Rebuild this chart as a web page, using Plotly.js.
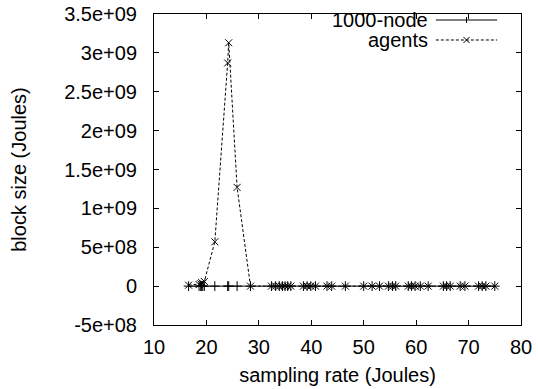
<!DOCTYPE html>
<html>
<head>
<meta charset="utf-8">
<script src="https://cdn.plot.ly/plotly-3.0.1.min.js"></script>
<style>html,body{margin:0;padding:0;background:#fff;}#chart{width:538px;height:389px;}</style>
</head>
<body>
<div id="chart"></div>
<script>
// x positions (sampling rate, Joules)
const samplingRate = [16.6, 18.6, 18.9, 19.1, 19.3, 19.6, 21.6, 24.05, 24.25, 25.85, 28.4,
  32.4, 33.2, 33.9, 34.5, 35.0, 35.5, 36.1, 38.5, 39.2, 39.9, 40.8, 43.0, 43.9, 46.5,
  50.0, 51.6, 53.0, 54.7, 55.5, 56.1, 58.5, 59.1, 59.8, 60.8, 62.3, 65.2, 65.8, 66.5,
  68.4, 69.3, 71.9, 72.6, 73.3, 75.0];
// series values (block size, Joules)
const node1000 = samplingRate.map(() => 0);
const agents = [1.2e7, 2.0e7, 3.0e7, 4.5e7, 3.5e7, 6.0e7, 5.7e8, 2.87e9, 3.13e9, 1.27e9, 0,
  0, 0, 0, 0, 0, 0, 0, 0, 0, 0, 0, 0, 0, 0,
  0, 0, 0, 0, 0, 0, 0, 0, 0, 0, 0, 0, 0, 0,
  0, 0, 0, 0, 0, 0];
const seriesNames = ['1000-node', 'agents'];
const xTicks = [10, 20, 30, 40, 50, 60, 70, 80];
const yTickVals = [-5e8, 0, 5e8, 1e9, 1.5e9, 2e9, 2.5e9, 3e9, 3.5e9];
const yTickText = ['-5e+08', '0', '5e+08', '1e+09', '1.5e+09', '2e+09', '2.5e+09', '3e+09', '3.5e+09'];

const FONT = 'Liberation Sans, Arial, sans-serif';
const FS = 20;

const traces = [
  {x: samplingRate, y: node1000, name: seriesNames[0], type: 'scatter', mode: 'lines+markers',
   line: {color: '#000', width: 1},
   marker: {symbol: 'cross-thin-open', size: 7, color: '#000', line: {color: '#000', width: 1}},
   showlegend: false, cliponaxis: false},
  {x: samplingRate, y: agents, name: seriesNames[1], type: 'scatter', mode: 'lines+markers',
   line: {color: '#000', width: 1, dash: '3px,2px'},
   marker: {symbol: 'x-thin-open', size: 7, color: '#000', line: {color: '#000', width: 1}},
   showlegend: false, cliponaxis: false}
];

// legend (gnuplot style: text on left, sample on right)
const legY = [0.9807, 0.9164];
const shapes = [];
const annotations = [];
const lx0 = 0.768, lx1 = 0.935, lxm = (lx0 + lx1) / 2;
const dx = 3 / 368, dy = 3 / 311;
seriesNames.forEach((n, i) => {
  annotations.push({xref: 'paper', yref: 'paper', x: 0.748, y: legY[i], text: n, showarrow: false,
    xanchor: 'right', yanchor: 'middle', borderpad: 0, font: {family: FONT, size: FS, color: '#000'}});
  shapes.push({type: 'line', xref: 'paper', yref: 'paper', x0: lx0, x1: lx1, y0: legY[i], y1: legY[i],
    line: {color: '#000', width: 1, dash: i === 0 ? 'solid' : '3px,2px'}});
});
// legend marker glyphs
shapes.push({type: 'line', xref: 'paper', yref: 'paper', x0: lxm, x1: lxm, y0: legY[0] - dy, y1: legY[0] + dy,
  line: {color: '#000', width: 1}});
shapes.push({type: 'line', xref: 'paper', yref: 'paper', x0: lxm - dx, x1: lxm + dx, y0: legY[1] - dy, y1: legY[1] + dy,
  line: {color: '#000', width: 1}});
shapes.push({type: 'line', xref: 'paper', yref: 'paper', x0: lxm - dx, x1: lxm + dx, y0: legY[1] + dy, y1: legY[1] - dy,
  line: {color: '#000', width: 1}});

const axisCommon = {
  showgrid: false, zeroline: false, showline: true, linecolor: '#000', linewidth: 1,
  mirror: 'ticks', ticks: 'inside', ticklen: 5, tickcolor: '#000', tickwidth: 1,
  tickfont: {family: FONT, size: FS, color: '#000'}
};

const layout = {
  width: 538, height: 389,
  margin: {l: 153.5, r: 16.5, t: 14, b: 64},
  paper_bgcolor: '#fff', plot_bgcolor: '#fff',
  showlegend: false,
  xaxis: Object.assign({}, axisCommon, {
    range: [10, 80], tickvals: xTicks, ticktext: xTicks.map(String),
    ticklabelstandoff: 4,
    title: {text: 'sampling rate (Joules)', font: {family: FONT, size: FS, color: '#000'}, standoff: 10}
  }),
  yaxis: Object.assign({}, axisCommon, {
    range: [-5e8, 3.5e9], tickvals: yTickVals, ticktext: yTickText,
    ticklabelstandoff: 12,
    title: {text: 'block size (Joules)', font: {family: FONT, size: FS, color: '#000'}, standoff: 32}
  }),
  shapes: shapes,
  annotations: annotations
};

Plotly.newPlot('chart', traces, layout, {staticPlot: true, displayModeBar: false});
</script>
</body>
</html>
